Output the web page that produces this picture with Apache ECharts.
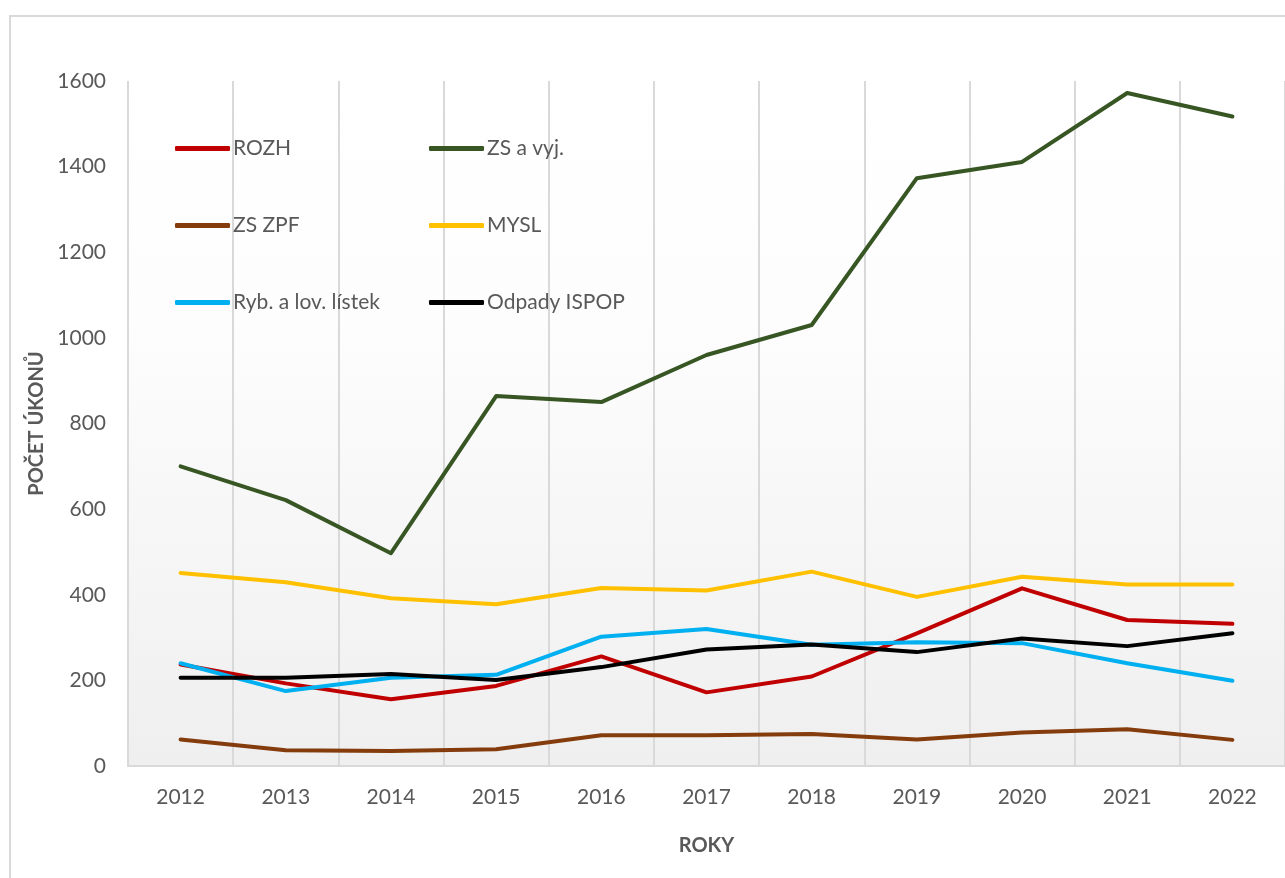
<!DOCTYPE html>
<html>
<head>
<meta charset="utf-8">
<script src="https://cdn.jsdelivr.net/npm/echarts@6/dist/echarts.min.js"></script>
<style>
  html, body { margin: 0; padding: 0; background: #fff; }
  #chart { width: 1285px; height: 878px; }
</style>
</head>
<body>
<div id="chart"></div>
<script>
// roky a počty úkonů
var years = ["2012", "2013", "2014", "2015", "2016", "2017", "2018", "2019", "2020", "2021", "2022"];
var rozh = [237, 193, 156, 187, 256, 172, 209, 310, 415, 341, 332];
var zsVyj = [700, 621, 497, 864, 850, 960, 1030, 1373, 1411, 1572, 1517];
var zsZpf = [62, 37, 35, 39, 72, 72, 75, 62, 78, 86, 61];
var mysl = [451, 429, 392, 378, 416, 410, 454, 395, 442, 424, 424];
var ryb = [240, 175, 206, 213, 302, 320, 283, 289, 287, 240, 199];
var odpady = [206, 206, 215, 201, 231, 272, 284, 266, 298, 280, 310];

var seriesNames = ["ROZH", "ZS a vyj.", "ZS ZPF", "MYSL", "Ryb. a lov. lístek", "Odpady ISPOP"];
var seriesData = [rozh, zsVyj, zsZpf, mysl, ryb, odpady];
var colors = ["#C00000", "#375623", "#843C0C", "#FFC000", "#00B0F0", "#000000"];

var yTicks = { min: 0, max: 1600, interval: 200 };

window.onload = function () {
  InitChart();
};

function InitChart() {
  var myChart = echarts.init(document.getElementById("chart"));
  var font = "Lato, 'Open Sans', sans-serif";

  // legenda: 2 sloupce x 3 řádky uvnitř grafu
  var legendPos = [
    [175, 138], [429, 138],
    [175, 215], [429, 215],
    [175, 292], [429, 292],
  ];
  var legends = seriesNames.map(function (name, i) {
    return {
      data: [name],
      left: legendPos[i][0],
      top: legendPos[i][1],
      padding: 0,
      icon: "roundRect",
      itemWidth: 55,
      itemHeight: 5,
      textStyle: { color: "#595959", fontSize: 21, fontFamily: font, padding: [0, 0, 0, -2] },
    };
  });

  var series = seriesNames.map(function (name, i) {
    return {
      name: name,
      type: "line",
      data: seriesData[i],
      symbol: "none",
      color: colors[i],
      lineStyle: { width: 4, color: colors[i], cap: "round", join: "round" },
      z: 2 + i,
    };
  });

  var option = {
    backgroundColor: "#fff",
    animation: false,
    graphic: [
      {
        type: "rect",
        shape: { x: 10, y: 16, width: 1400, height: 1000 },
        style: { fill: "none", stroke: "#d9d9d9", lineWidth: 2 },
        z: -1,
      },
    ],
    grid: {
      left: 128,
      top: 81,
      right: -5,
      bottom: 112,
      show: true,
      borderWidth: 0,
      backgroundColor: new echarts.graphic.LinearGradient(0, 0, 0, 1, [
        { offset: 0, color: "#ffffff" },
        { offset: 0.35, color: "#fdfdfd" },
        { offset: 1, color: "#efefef" },
      ]),
    },
    legend: legends,
    xAxis: {
      type: "category",
      data: years,
      boundaryGap: true,
      name: "ROKY",
      nameLocation: "middle",
      nameGap: 70,
      nameTextStyle: { color: "#595959", fontSize: 20, fontWeight: "bold", fontFamily: font },
      axisLine: { lineStyle: { color: "#d9d9d9", width: 2 } },
      axisTick: { show: false },
      axisLabel: { color: "#595959", fontSize: 21, fontFamily: font, margin: 21 },
      splitLine: { show: true, lineStyle: { color: "#d9d9d9", width: 2 } },
    },
    yAxis: {
      type: "value",
      min: yTicks.min,
      max: yTicks.max,
      interval: yTicks.interval,
      name: "POČET ÚKONŮ",
      nameLocation: "middle",
      nameGap: 66,
      nameTextStyle: { color: "#595959", fontSize: 20, fontWeight: "bold", fontFamily: font },
      axisLine: { show: false },
      axisTick: { show: false },
      axisLabel: {
        color: "#595959",
        fontSize: 21,
        fontFamily: font,
        margin: 22,
        formatter: function (v) { return String(v); },
      },
      splitLine: { show: false },
    },
    series: series,
  };
  myChart.setOption(option);
}
</script>
</body>
</html>
